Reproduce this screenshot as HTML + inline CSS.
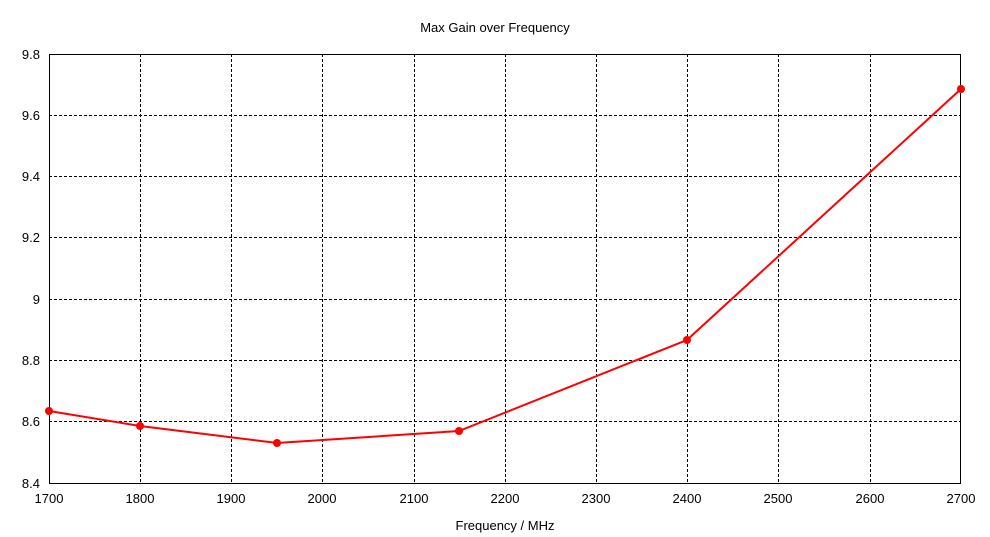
<!DOCTYPE html>
<html><head><meta charset="utf-8"><style>
body{margin:0;background:#fff;}
svg{display:block;font-family:"Liberation Sans","DejaVu Sans",sans-serif;font-size:13px;}
</style></head><body>
<svg width="990" height="537" viewBox="0 0 990 537">
<rect width="990" height="537" fill="#fff"/>
<g stroke="#000" stroke-width="1" stroke-dasharray="3,2" shape-rendering="crispEdges">
<line x1="140.5" y1="54" x2="140.5" y2="483"/>
<line x1="231.5" y1="54" x2="231.5" y2="483"/>
<line x1="322.5" y1="54" x2="322.5" y2="483"/>
<line x1="414.5" y1="54" x2="414.5" y2="483"/>
<line x1="505.5" y1="54" x2="505.5" y2="483"/>
<line x1="596.5" y1="54" x2="596.5" y2="483"/>
<line x1="687.5" y1="54" x2="687.5" y2="483"/>
<line x1="778.5" y1="54" x2="778.5" y2="483"/>
<line x1="870.5" y1="54" x2="870.5" y2="483"/>
<line x1="49" y1="115.5" x2="961" y2="115.5"/>
<line x1="49" y1="176.5" x2="961" y2="176.5"/>
<line x1="49" y1="237.5" x2="961" y2="237.5"/>
<line x1="49" y1="299.5" x2="961" y2="299.5"/>
<line x1="49" y1="360.5" x2="961" y2="360.5"/>
<line x1="49" y1="421.5" x2="961" y2="421.5"/>
</g>
<rect x="49.5" y="54.5" width="911" height="429" fill="none" stroke="#000" shape-rendering="crispEdges"/>
<text x="495" y="32" text-anchor="middle">Max Gain over Frequency</text>
<g text-anchor="middle">
<text x="49" y="503">1700</text><text x="140" y="503">1800</text><text x="231" y="503">1900</text>
<text x="322" y="503">2000</text><text x="414" y="503">2100</text><text x="505" y="503">2200</text>
<text x="596" y="503">2300</text><text x="687" y="503">2400</text><text x="778" y="503">2500</text>
<text x="870" y="503">2600</text><text x="961" y="503">2700</text>
<text x="505" y="530">Frequency / MHz</text>
</g>
<g text-anchor="end">
<text x="40" y="59">9.8</text><text x="40" y="120">9.6</text><text x="40" y="181">9.4</text>
<text x="40" y="242">9.2</text><text x="40" y="304">9</text><text x="40" y="365">8.8</text>
<text x="40" y="426">8.6</text><text x="40" y="488">8.4</text>
</g>
<polyline points="49,411 140,426 277,443 459,431 687,340 961,89" fill="none" stroke="#f00" stroke-width="2"/>
<g fill="#f00">
<circle cx="49" cy="411" r="4"/><circle cx="140" cy="426" r="4"/><circle cx="277" cy="443" r="4"/>
<circle cx="459" cy="431" r="4"/><circle cx="687" cy="340" r="4"/><circle cx="961" cy="89" r="4"/>
</g>
</svg>
</body></html>
